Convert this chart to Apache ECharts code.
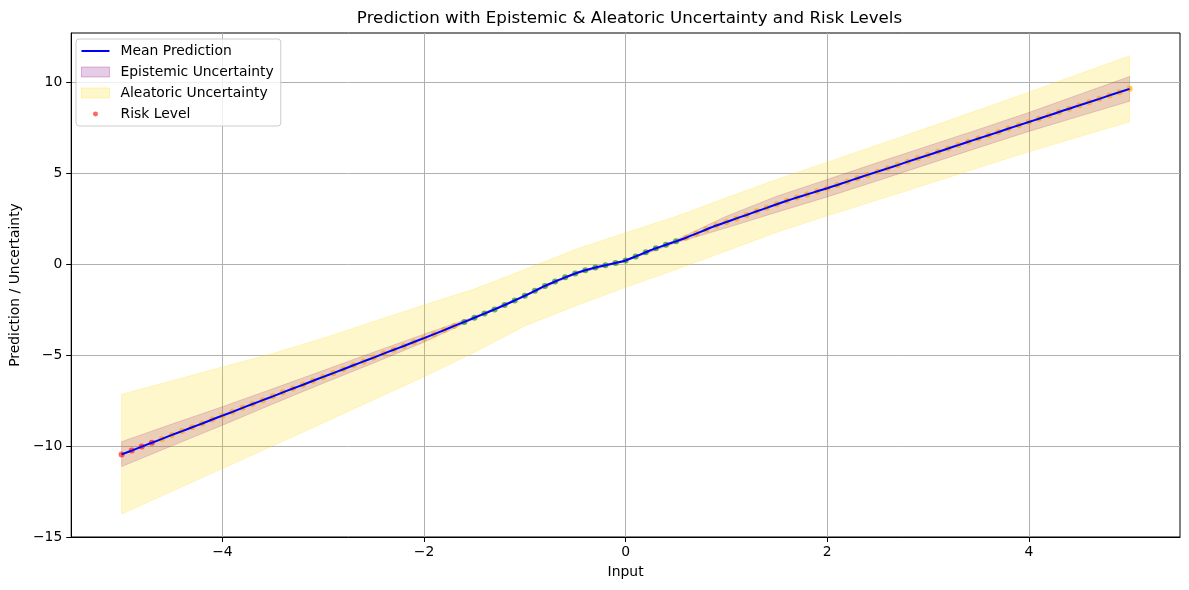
<!DOCTYPE html>
<html><head><meta charset="utf-8">
<script src="https://cdn.jsdelivr.net/npm/echarts@6/dist/echarts.min.js"></script>
<style>html,body{margin:0;padding:0;background:#fff}#c{width:1189px;height:590px}</style>
</head><body><div id="c"></div>
<script>
// ---- data ----
const inputs = [-5.0,-4.9,-4.8,-4.7,-4.6,-4.5,-4.4,-4.3,-4.2,-4.1,-4.0,-3.9,-3.8,-3.7,-3.6,-3.5,-3.4,-3.3,-3.2,-3.1,
  -3.0,-2.9,-2.8,-2.7,-2.6,-2.5,-2.4,-2.3,-2.2,-2.1,-2.0,-1.9,-1.8,-1.7,-1.6,-1.5,-1.4,-1.3,-1.2,-1.1,
  -1.0,-0.9,-0.8,-0.7,-0.6,-0.5,-0.4,-0.3,-0.2,-0.1,0.0,0.1,0.2,0.3,0.4,0.5,0.6,0.7,0.8,0.9,
  1.0,1.1,1.2,1.3,1.4,1.5,1.6,1.7,1.8,1.9,2.0,2.1,2.2,2.3,2.4,2.5,2.6,2.7,2.8,2.9,
  3.0,3.1,3.2,3.3,3.4,3.5,3.6,3.7,3.8,3.9,4.0,4.1,4.2,4.3,4.4,4.5,4.6,4.7,4.8,4.9,5.0];
const meanPrediction = [-10.46,-10.25,-10.03,-9.82,-9.61,-9.39,-9.18,-8.97,-8.76,-8.54,-8.33,-8.12,-7.90,-7.69,-7.48,-7.27,-7.05,-6.84,-6.63,-6.41,
  -6.20,-5.99,-5.78,-5.56,-5.35,-5.14,-4.92,-4.71,-4.50,-4.28,-4.07,-3.85,-3.63,-3.40,-3.18,-2.95,-2.72,-2.49,-2.25,-2.00,
  -1.74,-1.47,-1.20,-0.96,-0.73,-0.52,-0.34,-0.19,-0.06,0.06,0.20,0.42,0.65,0.87,1.06,1.25,1.45,1.67,1.90,2.12,
  2.31,2.51,2.70,2.90,3.09,3.29,3.48,3.66,3.83,4.00,4.17,4.35,4.53,4.72,4.90,5.08,5.26,5.44,5.63,5.81,
  5.99,6.17,6.35,6.54,6.72,6.90,7.08,7.26,7.45,7.63,7.81,7.99,8.17,8.36,8.54,8.72,8.90,9.08,9.27,9.45,9.63];
// H = high (red), M = medium (orange), L = low (green)
const riskLevel = ('HHHH' + 'MMMMMMMMMMMMMMMMMMMMMMMMMMMMMM' + 'LLLLLLLLLLLLLLLLLLLLLL' +
  'MMMMMMMMMMMMMMMMMMMMMMMMMMMMMMMMMMMMMMMMMMMMM').split('');

const bandX = [-5,-4.5,-4,-3.5,-3,-2.5,-2,-1.5,-1,-0.5,0,0.5,1,1.5,2,2.5,3,3.5,4,4.5,5];
const epistemicUpper = [-9.76,-8.79,-7.84,-6.85,-5.85,-4.84,-3.85,-2.89,-1.70,-0.48,0.24,1.33,2.63,3.73,4.65,5.58,6.49,7.40,8.33,9.32,10.31];
const epistemicLower = [-11.13,-9.99,-8.86,-7.69,-6.55,-5.44,-4.29,-3.01,-1.78,-0.56,0.16,1.17,1.99,2.85,3.69,4.58,5.49,6.40,7.29,8.12,8.95];
const aleatoricUpper = [-7.16,-6.41,-5.66,-4.91,-4.07,-3.16,-2.25,-1.37,-0.30,0.80,1.72,2.62,3.65,4.65,5.60,6.55,7.50,8.47,9.45,10.45,11.45];
const aleatoricLower = [-13.74,-12.49,-11.24,-9.99,-8.73,-7.46,-6.19,-4.85,-3.40,-2.30,-1.28,-0.30,0.72,1.75,2.65,3.52,4.40,5.29,6.17,7.00,7.82];

const xTicks = [-4,-2,0,2,4];
const yTicks = [-15,-10,-5,0,5,10];

// ---- styling ----
const FONT = 'DejaVu Sans';
const FS = 13.9;
const EPI_FILL = 'rgba(128,0,128,0.2)';
const ALE_FILL = 'rgba(255,215,0,0.2)';
const riskColor = {H:'rgba(255,0,0,0.75)', M:'rgba(255,165,0,0.85)', L:'rgba(0,128,0,0.75)'};
const fmt = v => (v < 0 ? '\u2212' + Math.abs(v) : String(v));

function bandSeries(name, up, lo, fill) {
  return {
    name: name, type: 'custom', coordinateSystem: 'cartesian2d', z: 1, silent: true,
    itemStyle: {color: fill},
    data: [[bandX[0], up[0]]],
    renderItem: function (params, api) {
      const pts = [];
      for (let i = 0; i < bandX.length; i++) pts.push(api.coord([bandX[i], up[i]]));
      for (let i = bandX.length - 1; i >= 0; i--) pts.push(api.coord([bandX[i], lo[i]]));
      return {type: 'polygon', shape: {points: pts}, style: {fill: fill, stroke: fill, lineWidth: 1}};
    }
  };
}

const dotIcon = 'path://M0,0 L0.01,0 M28,10 L28.01,10 M11.5,5 A2.5,2.5 0 1,0 16.5,5 A2.5,2.5 0 1,0 11.5,5 Z';
const lineIcon = 'path://M0,0 L0.01,0 M28,10 L28.01,10 M0,4.1 L28,4.1 L28,5.9 L0,5.9 Z';

const chart = echarts.init(document.getElementById('c'), null, {renderer: 'canvas'});
chart.setOption({
  animation: false,
  backgroundColor: '#ffffff',
  textStyle: {fontFamily: FONT},
  title: {
    text: 'Prediction with Epistemic & Aleatoric Uncertainty and Risk Levels',
    left: 624.5, top: 5, textAlign: 'center',
    textStyle: {fontFamily: FONT, fontSize: 16.7, fontWeight: 'normal', color: '#000'}
  },
  grid: {left: 69, right: 9, top: 33, bottom: 53, show: true, borderColor: '#000', borderWidth: 1, containLabel: false},
  legend: {
    orient: 'vertical', left: 76, top: 39,
    padding: [5, 7, 5, 5], itemWidth: 28, itemHeight: 10, itemGap: 7,
    borderColor: '#cccccc', borderWidth: 1, borderRadius: 3, backgroundColor: 'rgba(255,255,255,0.8)',
    textStyle: {fontFamily: FONT, fontSize: FS, color: '#000', lineHeight: 14, padding: [0, 0, 0, 6]},
    data: [
      {name: 'Mean Prediction', icon: lineIcon, itemStyle: {color: '#0000ff', borderWidth: 0}},
      {name: 'Epistemic Uncertainty', icon: 'rect', itemStyle: {color: EPI_FILL, borderColor: 'rgba(128,0,128,0.25)', borderWidth: 1}},
      {name: 'Aleatoric Uncertainty', icon: 'rect', itemStyle: {color: ALE_FILL, borderColor: 'rgba(255,215,0,0.25)', borderWidth: 1}},
      {name: 'Risk Level', icon: dotIcon, itemStyle: {color: 'rgba(255,0,0,0.75)', borderWidth: 0}}
    ]
  },
  xAxis: {
    type: 'value', min: -5.5, max: 5.5,
    name: 'Input', nameLocation: 'middle', nameGap: 28,
    nameTextStyle: {fontFamily: FONT, fontSize: FS, color: '#000'},
    axisLine: {onZero: false, lineStyle: {color: '#000', width: 1}},
    axisTick: {show: true, customValues: xTicks, length: 5, lineStyle: {color: '#000', width: 1}},
    axisLabel: {customValues: xTicks, formatter: fmt, fontFamily: FONT, fontSize: FS, color: '#000', margin: 8},
    splitLine: {show: true, lineStyle: {color: '#b0b0b0', width: 1}}
  },
  yAxis: {
    type: 'value', min: -15, max: 12.7,
    name: 'Prediction / Uncertainty', nameLocation: 'middle', nameGap: 45,
    nameTextStyle: {fontFamily: FONT, fontSize: FS, color: '#000'},
    axisLine: {onZero: false, lineStyle: {color: '#000', width: 1}},
    axisTick: {show: true, customValues: yTicks, length: 5, lineStyle: {color: '#000', width: 1}},
    axisLabel: {customValues: yTicks, formatter: fmt, fontFamily: FONT, fontSize: FS, color: '#000', margin: 9},
    splitLine: {show: true, lineStyle: {color: '#b0b0b0', width: 1}}
  },
  series: [
    bandSeries('Epistemic Uncertainty', epistemicUpper, epistemicLower, EPI_FILL),
    bandSeries('Aleatoric Uncertainty', aleatoricUpper, aleatoricLower, ALE_FILL),
    {
      name: 'Risk Level', type: 'scatter', z: 2, symbol: 'circle', symbolSize: 6, silent: true,
      itemStyle: {color: 'rgba(255,0,0,0.75)'},
      data: inputs.map((x, i) => ({value: [x, meanPrediction[i]], itemStyle: {color: riskColor[riskLevel[i]]}}))
    },
    {
      name: 'Mean Prediction', type: 'line', z: 3, symbol: 'none', smooth: 0.3, silent: true,
      lineStyle: {color: '#0000ff', width: 2}, itemStyle: {color: '#0000ff'},
      data: inputs.map((x, i) => [x, meanPrediction[i]])
    }
  ]
});
</script></body></html>
